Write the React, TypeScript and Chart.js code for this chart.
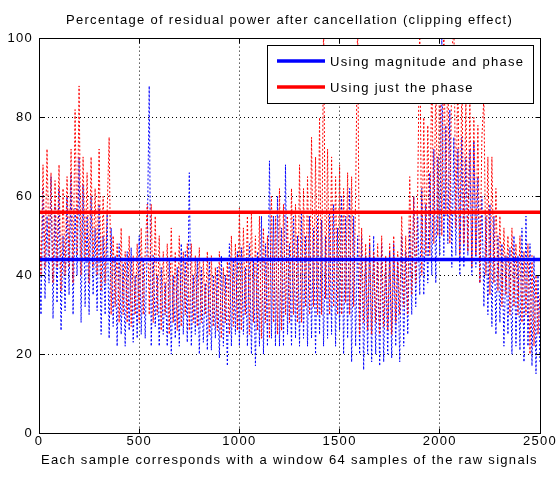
import { useEffect, useRef } from "react";
import { Chart, registerables } from "chart.js";

Chart.register(...registerables);

const TITLE = "Percentage of residual power after cancellation (clipping effect)";
const X_LABEL = "Each sample corresponds with a window 64 samples of the raw signals";
const SERIES_LABELS = ["Using magnitude and phase", "Using just the phase"];
const SAMPLE_STEP = 10;
const X_TICKS = [0, 500, 1000, 1500, 2000, 2500];
const Y_TICKS = [0, 20, 40, 60, 80, 100];
const MEAN_MAG_PHASE = 44;
const MEAN_PHASE_ONLY = 56;

// residual power (%) every SAMPLE_STEP samples, magnitude and phase
const MAG_PHASE = [
  48, 30, 62, 34, 55, 38, 65, 29, 58, 33,
  62, 26, 50, 31, 60, 35, 66, 30, 57, 40,
  70, 28, 63, 32, 55, 30, 60, 35, 52, 31,
  58, 25, 50, 30, 56, 24, 52, 27, 45, 22,
  48, 25, 43, 22, 46, 26, 47, 23, 40, 24,
  50, 25, 44, 24, 48, 88, 22, 45, 27, 40,
  22, 42, 25, 38, 22, 44, 20, 40, 24, 42,
  22, 48, 25, 46, 23, 66, 22, 40, 25, 44,
  20, 42, 23, 38, 21, 44, 21, 40, 24, 42,
  19, 45, 22, 40, 17, 48, 22, 44, 25, 46,
  22, 47, 25, 42, 22, 48, 20, 44, 17, 46,
  22, 55, 20, 48, 22, 69, 24, 55, 22, 60,
  22, 52, 22, 68, 25, 48, 22, 55, 24, 50,
  22, 56, 24, 50, 22, 55, 24, 52, 20, 55,
  25, 54, 22, 50, 24, 56, 25, 58, 22, 52,
  26, 60, 20, 55, 24, 62, 18, 55, 22, 50,
  20, 50, 16, 45, 20, 48, 18, 50, 20, 44,
  17, 48, 18, 44, 20, 46, 19, 48, 22, 44,
  18, 50, 22, 46, 25, 52, 30, 60, 32, 55,
  35, 62, 35, 58, 38, 66, 40, 72, 38, 70,
  45, 100, 45, 78, 48, 82, 42, 75, 45, 72,
  40, 75, 42, 70, 45, 72, 40, 74, 42, 65,
  38, 60, 32, 55, 30, 58, 27, 55, 25, 50,
  28, 48, 22, 45, 25, 47, 20, 50, 22, 45,
  21, 52, 18, 55, 22, 48, 17, 45, 15, 40,
  18,
];

// residual power (%) every SAMPLE_STEP samples, just the phase
const PHASE_ONLY = [
  55, 40, 68, 42, 72, 45, 66, 38, 64, 42,
  68, 36, 62, 40, 65, 42, 72, 38, 82, 45,
  88, 40, 70, 44, 66, 38, 70, 42, 62, 40,
  72, 36, 60, 38, 56, 75, 30, 50, 32, 48,
  28, 52, 30, 46, 28, 50, 27, 45, 30, 48,
  28, 52, 30, 46, 58, 30, 58, 28, 55, 30,
  50, 26, 46, 30, 48, 25, 52, 28, 46, 26,
  50, 27, 46, 30, 48, 26, 48, 28, 45, 27,
  47, 28, 44, 30, 46, 25, 45, 27, 42, 26,
  46, 24, 42, 28, 44, 25, 50, 27, 48, 26,
  57, 26, 52, 30, 55, 25, 56, 28, 50, 26,
  55, 24, 52, 28, 50, 24, 60, 28, 55, 25,
  62, 26, 58, 30, 55, 28, 62, 30, 58, 28,
  68, 28, 62, 32, 65, 30, 75, 32, 70, 30,
  80, 30, 105, 34, 72, 30, 70, 32, 65, 30,
  68, 30, 62, 33, 66, 30, 65, 32, 60, 105,
  25, 52, 28, 48, 26, 50, 25, 46, 28, 48,
  25, 50, 27, 45, 26, 48, 25, 50, 28, 46,
  30, 55, 32, 50, 30, 65, 35, 60, 38, 62,
  105, 40, 80, 45, 78, 45, 95, 48, 90, 50,
  98, 50, 105, 55, 95, 48, 95, 105, 52, 92,
  45, 90, 48, 85, 46, 85, 42, 80, 45, 78,
  38, 75, 85, 40, 70, 35, 70, 38, 62, 36,
  55, 32, 52, 35, 50, 30, 52, 32, 48, 30,
  50, 28, 46, 30, 48, 20, 45, 22, 40, 25,
  35,
];

const FONT = "'Liberation Sans', Arial, Helvetica, sans-serif";
const LETTER_SPACING = "1.3px";
const BLUE = "#0000ff";
const RED = "#ff0000";

const toPoints = (values: number[]) => values.map((y, i) => ({ x: i * SAMPLE_STEP, y }));
const meanLine = (v: number) => [
  { x: X_TICKS[0], y: v },
  { x: X_TICKS[X_TICKS.length - 1], y: v },
];

const align = (p: number) => Math.round(p - 0.5) + 0.5;

const matlabFrame = {
  id: "matlabFrame",
  beforeUpdate(chart: any) {
    chart.ctx.letterSpacing = LETTER_SPACING;
  },
  beforeDraw(chart: any) {
    const ctx = chart.ctx;
    ctx.letterSpacing = LETTER_SPACING;
    ctx.save();
    ctx.fillStyle = "#ffffff";
    ctx.fillRect(0, 0, chart.width, chart.height);
    ctx.restore();
  },
  afterDatasetsDraw(chart: any) {
    const { ctx, chartArea: a, scales } = chart;
    ctx.save();
    ctx.setLineDash([]);
    ctx.strokeStyle = "#000000";
    ctx.lineWidth = 1;
    const L = align(a.left), R = align(a.right), T = align(a.top), B = align(a.bottom);
    ctx.strokeRect(L, T, R - L, B - T);
    // inward tick marks
    ctx.beginPath();
    X_TICKS.forEach((v) => {
      const px = align(scales.x.getPixelForValue(v));
      ctx.moveTo(px, B); ctx.lineTo(px, B - 5);
      ctx.moveTo(px, T); ctx.lineTo(px, T + 5);
    });
    Y_TICKS.forEach((v) => {
      const py = align(scales.y.getPixelForValue(v));
      ctx.moveTo(L, py); ctx.lineTo(L + 5, py);
      ctx.moveTo(R, py); ctx.lineTo(R - 5, py);
    });
    ctx.stroke();

    // legend box (MATLAB style, inside axes, north-east)
    const items = chart.data.datasets.filter((d: any) => d.inLegend);
    const boxW = 266, boxH = 58;
    const bx = Math.round(a.right) - 7 - boxW;
    const by = Math.round(a.top) + 6;
    ctx.fillStyle = "#ffffff";
    ctx.fillRect(bx, by, boxW, boxH);
    ctx.strokeStyle = "#000000";
    ctx.lineWidth = 1;
    ctx.strokeRect(bx + 0.5, by + 0.5, boxW, boxH);
    ctx.font = `13px ${FONT}`;
    ctx.textBaseline = "middle";
    ctx.textAlign = "left";
    ctx.letterSpacing = LETTER_SPACING;
    items.forEach((d: any, i: number) => {
      const y = by + 16 + i * 26;
      ctx.strokeStyle = d.borderColor;
      ctx.lineWidth = 3.5;
      ctx.beginPath();
      ctx.moveTo(bx + 10, y);
      ctx.lineTo(bx + 58, y);
      ctx.stroke();
      ctx.fillStyle = "#000000";
      ctx.fillText(d.label, bx + 63, y + 1);
    });
    ctx.restore();
  },
};

export default function App() {
  const canvasRef = useRef<HTMLCanvasElement | null>(null);

  useEffect(() => {
    const canvas = canvasRef.current;
    if (!canvas) return;
    const tickFont = { family: FONT, size: 13 };
    const chart = new Chart(canvas, {
      type: "line",
      data: {
        datasets: [
          {
            label: SERIES_LABELS[0] + " (samples)",
            data: toPoints(MAG_PHASE),
            borderColor: BLUE,
            borderWidth: 1,
            borderDash: [2, 2],
            pointRadius: 0,
            fill: false,
            tension: 0,
            order: 4,
          },
          {
            label: SERIES_LABELS[1] + " (samples)",
            data: toPoints(PHASE_ONLY),
            borderColor: RED,
            borderWidth: 1,
            borderDash: [2, 2],
            pointRadius: 0,
            fill: false,
            tension: 0,
            order: 3,
          },
          {
            label: SERIES_LABELS[0],
            data: meanLine(MEAN_MAG_PHASE),
            borderColor: BLUE,
            borderWidth: 3.5,
            pointRadius: 0,
            fill: false,
            order: 2,
            inLegend: true,
          } as any,
          {
            label: SERIES_LABELS[1],
            data: meanLine(MEAN_PHASE_ONLY),
            borderColor: RED,
            borderWidth: 3.5,
            pointRadius: 0,
            fill: false,
            order: 1,
            inLegend: true,
          } as any,
        ],
      },
      options: {
        responsive: false,
        maintainAspectRatio: false,
        devicePixelRatio: 1,
        animation: false,
        events: [],
        layout: { padding: { left: 0, right: 17, top: 0, bottom: 0 } },
        plugins: {
          legend: { display: false },
          tooltip: { enabled: false },
          title: {
            display: true,
            fullSize: false,
            text: TITLE,
            color: "#000000",
            font: { family: FONT, size: 13, weight: "normal" },
            padding: { top: 13, bottom: 10 },
          },
        },
        scales: {
          x: {
            type: "linear",
            min: X_TICKS[0],
            max: X_TICKS[X_TICKS.length - 1],
            afterBuildTicks: (s: any) => {
              s.ticks = X_TICKS.map((v) => ({ value: v }));
            },
            afterFit: (s: any) => {
              s.height = 50;
              s.paddingLeft = 0;
              s.paddingRight = 0;
            },
            grid: { color: "#000000", lineWidth: 1, drawTicks: false },
            border: { display: true, color: "#000000", dash: [1, 3] },
            ticks: {
              color: "#000000",
              font: tickFont,
              padding: 1,
              maxRotation: 0,
              autoSkip: false,
              callback: (v: any) => String(v),
            },
            title: {
              display: true,
              text: X_LABEL,
              color: "#000000",
              font: { family: FONT, size: 13 },
              padding: { top: 0, bottom: 15 },
            },
          },
          y: {
            type: "linear",
            min: Y_TICKS[0],
            max: Y_TICKS[Y_TICKS.length - 1],
            afterBuildTicks: (s: any) => {
              s.ticks = Y_TICKS.map((v) => ({ value: v }));
            },
            afterFit: (s: any) => {
              s.width = 39;
              s.paddingTop = 0;
              s.paddingBottom = 0;
            },
            grid: { color: "#000000", lineWidth: 1, drawTicks: false },
            border: { display: true, color: "#000000", dash: [1, 3] },
            ticks: {
              color: "#000000",
              font: tickFont,
              padding: 6,
              callback: (v: any) => String(v),
            },
          },
        },
      },
      plugins: [matlabFrame],
    } as any);
    return () => chart.destroy();
  }, []);

  return (
    <div
      style={{
        position: "fixed",
        left: 0,
        top: 0,
        width: 557,
        height: 483,
        background: "#ffffff",
      }}
    >
      <canvas
        ref={canvasRef}
        width={557}
        height={483}
        style={{ display: "block", width: 557, height: 483 }}
      />
    </div>
  );
}
